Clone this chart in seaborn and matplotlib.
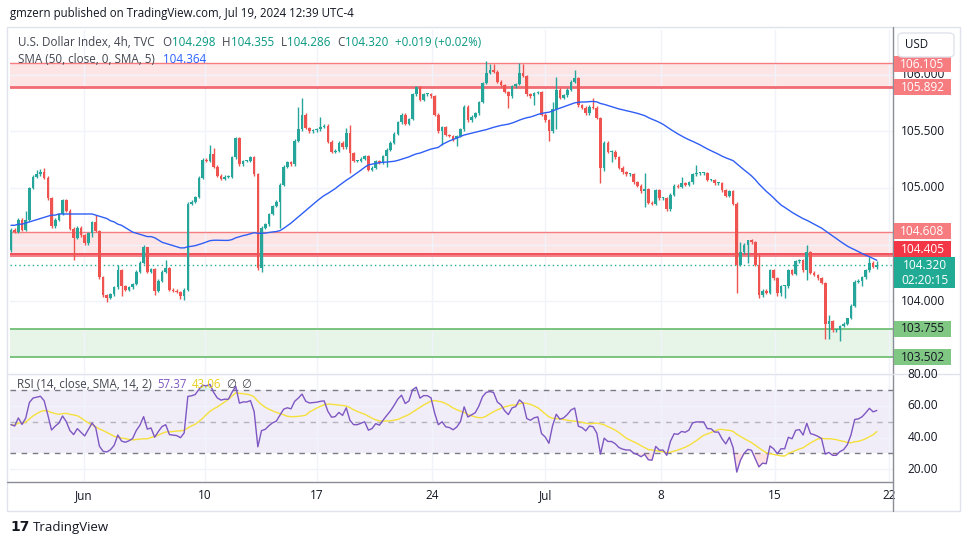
import numpy as np
import pandas as pd
import matplotlib
matplotlib.use("Agg")
import matplotlib.pyplot as plt
import seaborn as sns
from matplotlib.patches import Rectangle, FancyBboxPatch
from matplotlib.lines import Line2D

# ---------------- data ----------------
first_open = 104.45
last_open = 104.298
closes = [
    104.63, 104.61, 104.72, 104.63, 104.72, 105.00, 105.10, 105.12, 105.14, 105.09,
    104.91, 104.66, 104.72, 104.77, 104.89, 104.80, 104.64, 104.56, 104.65, 104.58,
    104.51, 104.60, 104.70, 104.62, 104.21, 104.05, 104.03, 104.06, 104.12, 104.27,
    104.13, 104.10, 104.12, 104.15,
    104.26, 104.34, 104.48, 104.26, 104.28, 104.09, 104.18, 104.26, 104.29, 104.10,
    104.09, 104.08, 104.04, 104.10, 104.86, 104.88, 104.92, 105.09, 105.25, 105.24,
    105.30, 105.19, 105.11, 105.08, 105.10, 105.10, 105.27, 105.44, 105.21, 105.24,
    105.24, 105.27, 105.12, 104.29,
    104.65, 104.68, 104.77, 104.84, 104.88, 105.03, 105.19, 105.23, 105.21, 105.42,
    105.52, 105.65, 105.53, 105.50, 105.51, 105.52, 105.54, 105.55, 105.41, 105.32,
    105.33, 105.40, 105.36, 105.49, 105.31, 105.24, 105.24, 105.26, 105.28, 105.16,
    105.18, 105.24, 105.22, 105.28,
    105.34, 105.40, 105.48, 105.58, 105.65, 105.57, 105.61, 105.83, 105.89, 105.78,
    105.83, 105.83, 105.81, 105.65, 105.50, 105.54, 105.47, 105.46, 105.43, 105.46,
    105.52, 105.72, 105.60, 105.63, 105.66, 105.76, 105.93, 106.02, 106.04, 106.03,
    105.94, 105.91, 105.85, 105.81,
    105.90, 105.92, 106.02, 105.99, 105.83, 105.81, 105.84, 105.85, 105.65, 105.60,
    105.50, 105.70, 105.87, 105.80, 105.82, 105.87, 105.94, 105.97, 105.73, 105.71,
    105.66, 105.72, 105.71, 105.62, 105.18, 105.40, 105.32, 105.32, 105.27, 105.18,
    105.14, 105.12, 105.12, 105.05,
    105.02, 104.97, 104.99, 104.87, 104.86, 104.98, 104.91, 104.91, 104.81, 104.94,
    105.02, 105.01, 105.04, 105.03, 105.05, 105.12, 105.13, 105.13, 105.13, 105.07,
    105.07, 105.04, 105.04, 104.98, 104.93, 104.97, 104.86, 104.32, 104.43, 104.50,
    104.54, 104.52, 104.32, 104.05,
    104.09, 104.07, 104.27, 104.20, 104.07, 104.13, 104.13, 104.27, 104.24, 104.35,
    104.36, 104.27, 104.43, 104.25, 104.23, 104.20, 104.16, 103.80, 103.82, 103.74,
    103.74, 103.78, 103.80, 103.85, 103.96, 104.17, 104.18, 104.21, 104.27, 104.34,
    104.30, 104.320,
]
high_marks = {4: 104.80, 7: 105.16, 8: 105.17, 9: 105.18, 23: 104.76, 29: 104.32,
              36: 104.50, 37: 104.47, 42: 104.36, 48: 104.88, 54: 105.38, 55: 105.35,
              61: 105.45, 78: 105.72, 79: 105.80, 84: 105.63, 91: 105.53, 92: 105.56,
              129: 106.12, 130: 106.10, 131: 106.10, 138: 106.11, 139: 106.10,
              147: 105.76, 148: 105.98, 153: 106.04, 158: 105.80, 172: 105.13,
              182: 105.10, 186: 105.20, 198: 104.52, 200: 104.54, 203: 104.42,
              216: 104.50, 222: 103.88, 227: 103.84, 233: 104.39, 235: 104.355}
low_marks = {17: 104.36, 22: 104.57, 26: 103.99, 30: 104.04, 39: 104.05, 46: 104.02,
             47: 104.01, 67: 104.27, 68: 104.26, 73: 104.65, 92: 105.13, 102: 105.19,
             117: 105.38, 121: 105.37, 135: 105.71, 142: 105.73, 146: 105.42,
             148: 105.52, 160: 105.04, 161: 105.15, 163: 105.23, 172: 104.83,
             197: 104.07, 200: 104.34, 203: 104.03, 208: 104.04, 209: 104.04,
             210: 104.03, 216: 104.19, 221: 103.66, 222: 103.66, 224: 103.73,
             225: 103.65, 231: 104.13, 235: 104.286}
sma_warmup = [
    104.67, 104.67, 104.68, 104.68, 104.69, 104.70, 104.71, 104.72, 104.73, 104.74,
    104.75, 104.76, 104.76, 104.77, 104.77, 104.77, 104.77, 104.77, 104.77, 104.77,
    104.77, 104.77, 104.77, 104.76, 104.75, 104.74, 104.73, 104.71, 104.70, 104.68,
    104.67, 104.65, 104.63, 104.61, 104.60, 104.59, 104.58, 104.57, 104.57, 104.56,
    104.54, 104.52, 104.51, 104.50, 104.49, 104.48, 104.47, 104.47, 104.48,
]
rsi_seed_gain = 0.040
rsi_seed_loss = 0.043

tick_pos = [19.8, 52.7, 83.1, 114.3, 145.0, 176.4, 207.4, 238.3]
tick_labels = ["Jun", "10", "17", "24", "Jul", "8", "15", "22"]
zone_top = (105.892, 106.105)
zone_mid = (104.394, 104.608)
line_mid = 104.405
zone_low = (103.502, 103.755)
last_price = 104.320
price_grid = [104.0, 104.5, 105.0, 105.5, 106.0]
price_labels = [(106.0, "106.000"), (105.5, "105.500"), (105.0, "105.000"), (104.0, "104.000")]
rsi_levels = [20, 40, 60, 80]

# ---------------- derived series ----------------
n = len(closes)
idx = np.arange(n)
c = np.array(closes, dtype=float)
o = np.concatenate([[first_open], c[:-1]])
o[-1] = last_open
body_hi = np.maximum(o, c)
body_lo = np.minimum(o, c)
wick = 0.012
hi = np.array([high_marks.get(i, body_hi[i] + wick) for i in idx])
lo = np.array([low_marks.get(i, body_lo[i] - wick) for i in idx])
hi = np.maximum(hi, body_hi)
lo = np.minimum(lo, body_lo)
up = c >= o
UP, DN = "#26a69a", "#ef5350"
cols = np.where(up, UP, DN)

sma = pd.Series(c).rolling(50).mean().to_numpy()
sma[:len(sma_warmup)] = sma_warmup

ag, al = rsi_seed_gain, rsi_seed_loss
rsi = []
for i in range(n):
    if i > 0:
        ch = c[i] - c[i - 1]
        ag = (ag * 13 + max(ch, 0)) / 14
        al = (al * 13 + max(-ch, 0)) / 14
    rsi.append(100 - 100 / (1 + ag / al))
rsi = np.array(rsi)
rsi_ma = pd.Series(rsi).rolling(14, min_periods=1).mean().to_numpy()
df = pd.DataFrame({"i": idx, "sma": sma, "rsi": rsi, "rsi_ma": rsi_ma})

# ---------------- figure ----------------
sns.set_theme(style="white")
plt.rcParams["font.family"] = ["Open Sans", "DejaVu Sans"]
W, H = 970, 545
fig = plt.figure(figsize=(9.7, 5.45), dpi=100, facecolor="white")


def fx(x):
    return x / W


def fy(y):
    return 1 - y / H


ax = fig.add_axes([fx(10), fy(373), fx(893) - fx(10), fy(30) - fy(373)])
ax2 = fig.add_axes([fx(10), fy(481), fx(893) - fx(10), fy(374) - fy(481)], sharex=ax)
for a in (ax, ax2):
    a.set_facecolor("white")
    for s in a.spines.values():
        s.set_visible(False)

ax.set_xlim(-0.27, 239.4)
ax.set_ylim(103.363, 106.398)
ax2.set_ylim(12.42, 80.3)

# grid
ax2.set_xticks(tick_pos, tick_labels)
ax2.tick_params(axis="x", length=0, pad=6, labelsize=8.5, labelcolor="#131722")
ax.tick_params(axis="x", length=0, labelbottom=False)
ax.set_yticks(price_grid)
ax.tick_params(axis="y", length=0, labelleft=False)
ax2.set_yticks(rsi_levels)
ax2.tick_params(axis="y", length=0, labelleft=False)
for a in (ax, ax2):
    a.grid(True, color="#f0f3fa", lw=1)
    a.set_axisbelow(True)

# zones
ax.axhspan(*zone_top, color="#f23645", alpha=0.13, lw=0, zorder=0.5)
ax.axhline(zone_top[1], color="#f77c80", lw=1, zorder=1)
ax.axhline(zone_top[0], color="#f06b72", lw=2, zorder=1)
ax.axhspan(*zone_mid, color="#f23645", alpha=0.13, lw=0, zorder=0.5)
ax.axhline(zone_mid[1], color="#f77c80", lw=1, zorder=1)
ax.axhline(zone_mid[0], color="#f06b72", lw=1.2, zorder=1)
ax.axhline(line_mid + 0.008, color="#f23645", lw=1.2, zorder=1)
ax.axhspan(*zone_low, color="#4caf50", alpha=0.13, lw=0, zorder=0.5)
ax.axhline(zone_low[1], color="#66bb6a", lw=1.2, zorder=1)
ax.axhline(zone_low[0], color="#66bb6a", lw=1.2, zorder=1)
ax.axhline(last_price, color="#22ab94", lw=1, ls=(0, (1, 2.2)), zorder=1.5)

# candles
ax.vlines(idx, lo, hi, colors=cols, lw=1, zorder=2)
heights = np.maximum(body_hi - body_lo, 0.009)
ax.bar(idx, heights, bottom=body_lo, width=0.72, color=cols, lw=0, zorder=2.5)

# SMA
sns.lineplot(data=df, x="i", y="sma", ax=ax, color="#2f5ef5", lw=1, zorder=3)
ax.set_xlabel("")
ax.set_ylabel("")

# RSI pane
ax2.axhspan(30, 70, color="#7e57c2", alpha=0.1, lw=0, zorder=0.5)
for lev, al_ in ((70, 1.0), (50, 0.5), (30, 1.0)):
    ax2.axhline(lev, color="#787b86", lw=1, ls=(0, (4, 4)), alpha=al_, zorder=1)
ax2.fill_between(idx, rsi, 30, where=rsi < 30, interpolate=True, color="#f23645", alpha=0.15, lw=0)
ax2.fill_between(idx, rsi, 70, where=rsi > 70, interpolate=True, color="#26a69a", alpha=0.15, lw=0)
sns.lineplot(data=df, x="i", y="rsi_ma", ax=ax2, color="#f5e03c", lw=1, zorder=2)
sns.lineplot(data=df, x="i", y="rsi", ax=ax2, color="#7e57c2", lw=1, zorder=3)
ax2.set_xlabel("")
ax2.set_ylabel("")
ax2.set_xlim(-0.27, 239.4)

# frame / separators
fig.add_artist(Rectangle((fx(7), fy(511)), fx(960) - fx(7), (511 - 27) / H, transform=fig.transFigure,
                         fill=False, ec="#e0e3eb", lw=1, zorder=0.1))
fig.add_artist(Line2D([fx(893.5), fx(893.5)], [fy(27), fy(511)], color="#8a8d96", lw=1))
fig.add_artist(Line2D([fx(7), fx(893.5)], [fy(481.5), fy(481.5)], color="#8a8d96", lw=1))
fig.add_artist(Line2D([fx(7), fx(960)], [fy(373.5), fy(373.5)], color="#e0e3eb", lw=1))

# ---------------- text ----------------
renderer = fig.canvas.get_renderer()


def seg_text(x_px, y_px, parts, size, z=6):
    x = x_px
    for s, col, gap in parts:
        t = fig.text(fx(x), fy(y_px), s, color=col, fontsize=size, va="center", ha="left", zorder=z)
        x += t.get_window_extent(renderer=renderer).width + gap
    return x


DARK = "#131722"
TXT = "#434651"
TEAL = "#089981"
seg_text(10, 13, [("gmzern published on TradingView.com, Jul 19, 2024 12:39 UTC-4", DARK, 0)], 8.3)
seg_text(18, 42, [("U.S. Dollar Index, 4h, TVC", TXT, 8),
                  ("O", TXT, 0), ("104.298", TEAL, 7),
                  ("H", TXT, 0), ("104.355", TEAL, 7),
                  ("L", TXT, 0), ("104.286", TEAL, 7),
                  ("C", TXT, 0), ("104.320", TEAL, 7),
                  ("+0.019 (+0.02%)", TEAL, 0)], 8.4)
seg_text(18, 59, [("SMA (50, close, 0, SMA, 5)", TXT, 8), ("104.364", "#2962ff", 0)], 8.4)
seg_text(17, 385, [("RSI (14, close, SMA, 14, 2)", TXT, 6), ("%.2f" % 57.37, "#7e57c2", 5),
                   ("%.2f" % 43.06, "#e8cf1c", 5), ("\u2205", TXT, 5), ("\u2205", TXT, 0)], 8.3)


def ypx(a, v):
    return H - a.transData.transform((0, v))[1]


# right axis plain labels
for v, s in price_labels:
    fig.text(fx(923), fy(ypx(ax, v)), s, ha="center", va="center", fontsize=8.6, color=DARK, zorder=3)
for v in rsi_levels:
    fig.text(fx(923), fy(ypx(ax2, v)), "%.2f" % v, ha="center", va="center", fontsize=8.6, color=DARK, zorder=3)


def box_label(y_center, text, fc, tc, h=16, x0=894, x1=951):
    fig.add_artist(Rectangle((fx(x0), fy(y_center + h / 2)), fx(x1) - fx(x0), h / H,
                             transform=fig.transFigure, fc=fc, ec="none", zorder=4))
    fig.text(fx((x0 + x1) / 2), fy(y_center), text, ha="center", va="center", fontsize=8.6,
             color=tc, zorder=5, linespacing=1.25)


box_label(ypx(ax, 106.105) + 1, "106.105", "#f77c80", "white")
box_label(ypx(ax, 105.892), "105.892", "#f77c80", "white")
box_label(ypx(ax, 104.608) - 1, "104.608", "#f77c80", "white")
box_label(ypx(ax, 104.405) - 6, "104.405", "#f23645", "white")
box_label(ypx(ax, last_price) + 8, "104.320\n02:20:15", "#22ab94", "white", h=31, x1=955)
box_label(ypx(ax, 103.755), "103.755", "#81c784", DARK)
box_label(ypx(ax, 103.502), "103.502", "#81c784", DARK)

# USD button
fig.add_artist(FancyBboxPatch((fx(898), fy(57)), fx(954) - fx(898), 24 / H,
                              boxstyle="round,pad=0,rounding_size=0.006", transform=fig.transFigure,
                              fc="white", ec="#e0e3eb", lw=1, zorder=4))
fig.text(fx(917), fy(45), "USD", ha="center", va="center", fontsize=8.3, color=DARK, zorder=5)

# TradingView footer
fig.text(fx(10), fy(527), "17", ha="left", va="center", fontsize=10, color=DARK,
         fontweight="heavy", family="DejaVu Sans")
fig.text(fx(33), fy(527), "TradingView", ha="left", va="center", fontsize=9.5, color=DARK)

fig.savefig("out.png", dpi=100, facecolor="white")
